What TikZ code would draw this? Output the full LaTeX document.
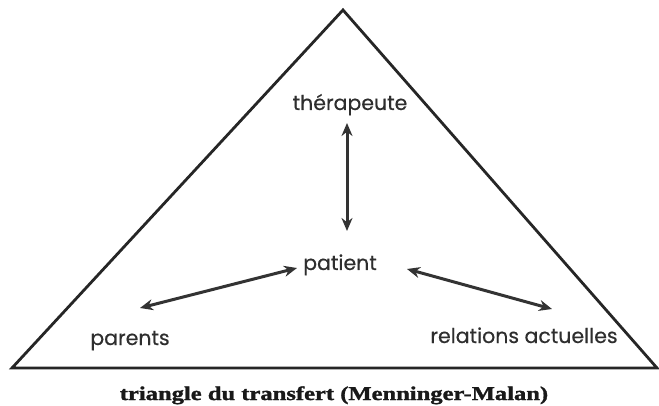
\documentclass[tikz,border=0pt]{standalone}
\usepackage{fontspec}
\newfontfamily\geo[FakeBold=0.5]{Poppins}
\newfontfamily\capfont[FakeStretch=1.26,BoldFeatures={FakeBold=1.5}]{Liberation Serif}
\usetikzlibrary{arrows.meta}
\begin{document}
\begin{tikzpicture}[x=1pt,y=-1pt,
  tri/.style={line width=2.8pt,line join=miter,draw=black!85},
  rel/.style={line width=3pt,draw=black!80,{Stealth[length=13pt,width=11pt]}-{Stealth[length=13pt,width=11pt]}},
  lbl/.style={font=\geo\fontsize{20.5}{24}\selectfont,text=black!82,inner sep=0pt,anchor=base},
  captionstyle/.style={font=\capfont\bfseries\fontsize{19.5}{21}\selectfont,text=black!90,inner sep=0pt,anchor=base}]
\useasboundingbox (0,0) rectangle (659,406);
\coordinate (A) at (343,10);
\coordinate (L) at (12,368);
\coordinate (R) at (657,368);
\draw[tri] (A) -- (L) -- (R) -- cycle;
\node[lbl] (ther) at (350,110) {thérapeute};
\node[lbl] (pat) at (340,270) {patient};
\node[lbl] (par) at (130,345) {parents};
\node[lbl] (relac) at (524,343) {relations actuelles};
\node[captionstyle] (caption) at (334,400) {triangle du transfert (Menninger-Malan)};
\coordinate (t1) at (347,123);
\coordinate (t2) at (347,231);
\coordinate (l1) at (140,308);
\coordinate (l2) at (297,268);
\coordinate (r1) at (407,269);
\coordinate (r2) at (552,309);
\draw[rel] (t1) -- (t2);
\draw[rel] (l1) -- (l2);
\draw[rel] (r1) -- (r2);
\end{tikzpicture}
\end{document}
